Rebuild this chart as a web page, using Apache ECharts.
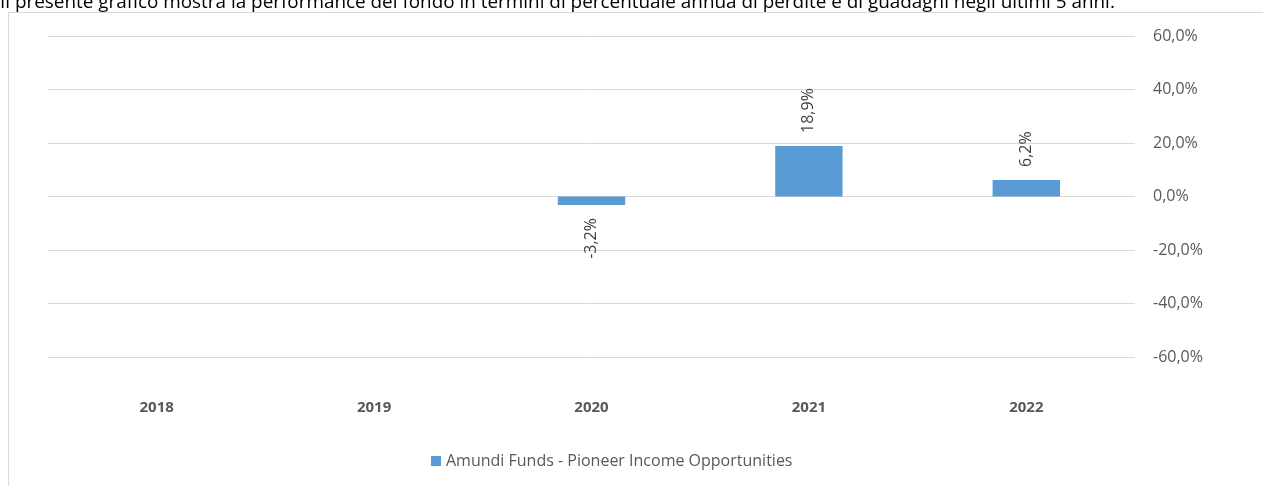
<!DOCTYPE html>
<html><head><meta charset="utf-8">
<style>html,body{margin:0;padding:0;background:#fff;}#c{width:1263px;height:486px;}</style>
<script src="https://cdn.jsdelivr.net/npm/echarts@6/dist/echarts.min.js"></script>
</head><body><div id="c"></div>
<script>
const categories = ['2018', '2019', '2020', '2021', '2022'];
const fundValues = [null, null, -3.2, 18.9, 6.2];
const seriesName = 'Amundi Funds - Pioneer Income Opportunities';
const introText = 'Il presente grafico mostra la performance del fondo in termini di percentuale annua di perdite e di guadagni negli ultimi 5 anni.';
const fmt = v => v.toFixed(1).replace('.', ',') + '%';
const chart = echarts.init(document.getElementById('c'), null, {renderer: 'canvas'});
const FONT = 'Open Sans';
const barData = fundValues.map(v => v == null ? null : {
  value: v,
  label: v >= 0 ? {position: 'top', align: 'left', verticalAlign: 'middle'}
                : {position: 'bottom', align: 'right', verticalAlign: 'middle'}
});
chart.setOption({
  animation: false,
  textStyle: {fontFamily: FONT},
  graphic: [
    {type: 'rect', shape: {x: 8.5, y: 12.5, width: 1400, height: 600}, style: {fill: 'none', stroke: '#d9d9d9', lineWidth: 1}, z: 0},
    {type: 'text', x: 0, y: -7, style: {text: introText, fill: '#000', font: '18.9px ' + FONT}, z: 10}
  ],
  grid: {left: 48, right: 128, top: 36, bottom: 129, containLabel: false},
  xAxis: {
    type: 'category', data: categories,
    axisLine: {show: false}, axisTick: {show: false},
    axisLabel: {color: '#595959', fontWeight: 'bold', fontSize: 15, fontFamily: FONT, margin: 43}
  },
  yAxis: {
    type: 'value', position: 'right', min: -60, max: 60, interval: 20,
    axisLine: {show: false}, axisTick: {show: false},
    axisLabel: {color: '#595959', fontSize: 16, fontFamily: FONT, margin: 18, formatter: v => fmt(v)},
    splitLine: {lineStyle: {color: '#d9d9d9', width: 1}}
  },
  legend: {
    bottom: 17, left: 431, itemWidth: 10, itemHeight: 10, icon: 'rect', itemGap: 4,
    padding: 0,
    textStyle: {color: '#595959', fontSize: 16, fontFamily: FONT},
    data: [seriesName]
  },
  series: [{
    name: seriesName, type: 'bar', data: barData, barWidth: '31%',
    itemStyle: {color: '#5b9bd5'},
    label: {show: true, rotate: 90, color: '#404040', fontSize: 16, fontFamily: FONT, distance: 13,
      formatter: p => fmt(p.value)}
  }]
});
</script></body></html>
